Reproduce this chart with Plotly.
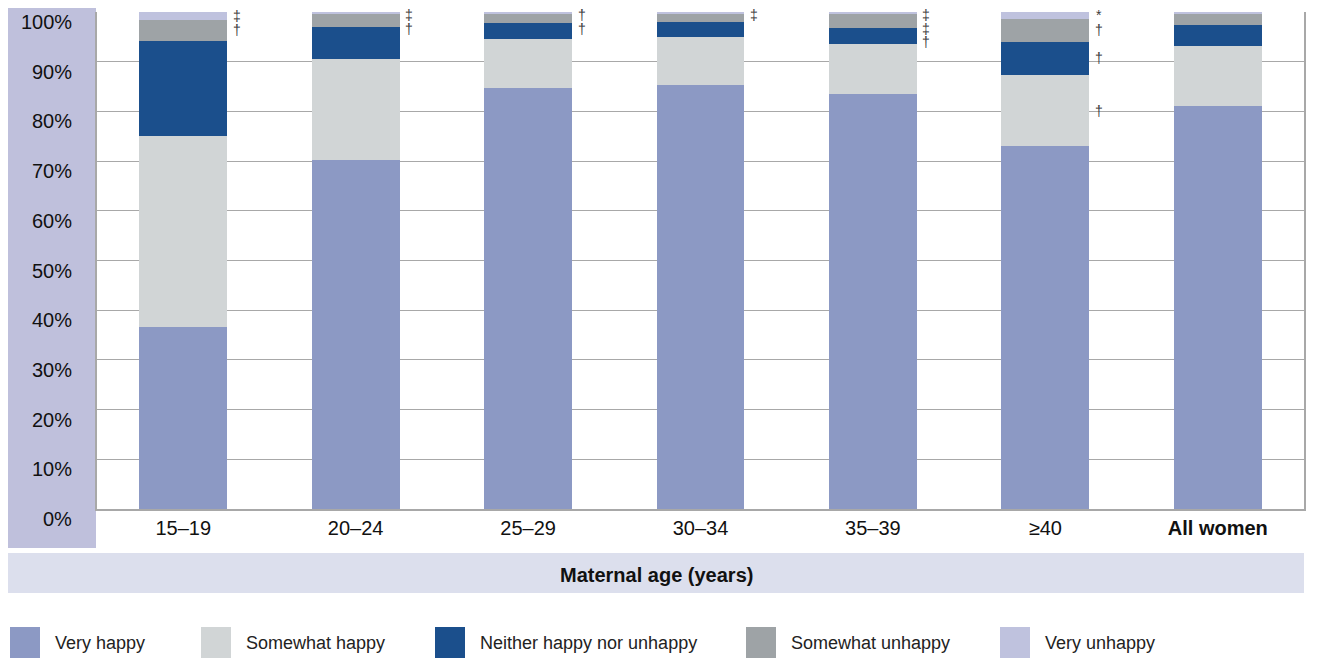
import plotly.graph_objects as go

# data (percent of women)
age_groups = ['15–19', '20–24', '25–29', '30–34', '35–39', '≥40', 'All women']
tick_labels = ['15–19', '20–24', '25–29', '30–34', '35–39', '≥40', '<b>All women</b>']
y_ticks = [0, 10, 20, 30, 40, 50, 60, 70, 80, 90, 100]

very_happy = [36.6, 70.2, 84.7, 85.3, 83.5, 73.0, 81.1]
somewhat_happy = [38.4, 20.3, 9.9, 9.7, 10.1, 14.3, 12.1]
neither = [19.2, 6.5, 3.2, 3.0, 3.2, 6.7, 4.2]
somewhat_unhappy = [4.2, 2.6, 1.8, 1.6, 2.8, 4.6, 2.2]
very_unhappy = [1.6, 0.4, 0.4, 0.4, 0.4, 1.4, 0.4]

series_names = ['Very happy', 'Somewhat happy', 'Neither happy nor unhappy',
                'Somewhat unhappy', 'Very unhappy']
series_values = [very_happy, somewhat_happy, neither, somewhat_unhappy, very_unhappy]
colors = ['#8c99c4', '#d1d5d6', '#1b4f8c', '#9ea3a6', '#bfc2de']

# footnote symbols per age group, per series (same order as series_names)
footnotes = [
    ['', '', '', '†', '‡'],
    ['', '', '', '†', '‡'],
    ['', '', '', '†', '†'],
    ['', '', '', '', '‡'],
    ['', '', '†', '‡', '‡'],
    ['', '†', '†', '†', '*'],
    ['', '', '', '', ''],
]

FONT = 'Liberation Sans Narrow, Arial Narrow, Liberation Sans, sans-serif'

# the page body adds an 8px offset, so the figure is laid out in screen pixels minus 8
OFF = 8
W, H = 1317 - OFF, 658 - OFF
L, R, T, B = 97 - OFF, 13, 12 - OFF, 658 - 509
PW, PH = W - L - R, H - T - B


def px(x):
    # screen x -> paper
    return (x - OFF - L) / PW


def py(y):
    # screen y -> paper
    return (H - B - (y - OFF)) / PH


fig = go.Figure()
for name, vals, col in zip(series_names, series_values, colors):
    fig.add_trace(go.Bar(x=age_groups, y=vals, name=name, marker_color=col,
                         marker_line_width=0, showlegend=False))

# footnote markers to the right of each bar, at segment midpoints, pushed apart
annotations = []
for i, syms in enumerate(footnotes):
    base = 0
    mids = []
    for vals in series_values:
        mids.append(base + vals[i] / 2)
        base += vals[i]
    prev = None
    for k in range(len(syms) - 1, -1, -1):
        if not syms[k]:
            continue
        y = min(mids[k], 99.3)
        if prev is not None and y > prev - 2.7:
            y = prev - 2.7
        prev = y
        annotations.append(dict(x=i + 0.31, y=y / 100, xref='x', yref='paper', text=syms[k],
                                showarrow=False, font=dict(family=FONT, size=14, color='#3a3a3a'),
                                xanchor='center', yanchor='middle'))

# y tick labels sit a little below their gridlines in the reference
for v in y_ticks:
    annotations.append(dict(x=px(74), y=v / 100, xref='paper', yref='paper', text=f'{v}%',
                            showarrow=False, yshift=-10,
                            font=dict(family=FONT, size=20, color='#111111'),
                            xanchor='right', yanchor='middle'))

# x-axis title band
annotations.append(dict(x=px((8 + 1304) / 2), y=py(575), xref='paper', yref='paper',
                        text='<b>Maternal age (years)</b>', showarrow=False,
                        font=dict(family=FONT, size=20, color='#111111'),
                        xanchor='center', yanchor='middle'))

shapes = [
    dict(type='rect', xref='paper', yref='paper', x0=px(8), x1=px(96), y0=py(548), y1=py(8),
         fillcolor='#bfc0dc', line_width=0, layer='below'),
    dict(type='rect', xref='paper', yref='paper', x0=px(8), x1=px(1304), y0=py(593), y1=py(553),
         fillcolor='#dcdfed', line_width=0, layer='below'),
]

# custom legend with large swatches
legend_x = [10, 201, 435, 746, 1000]
for name, col, lx in zip(series_names, colors, legend_x):
    shapes.append(dict(type='rect', xref='paper', yref='paper', x0=px(lx), x1=px(lx + 30),
                       y0=py(660), y1=py(627), fillcolor=col, line_width=0))
    annotations.append(dict(x=px(lx + 43), y=py(643), xref='paper', yref='paper', text=name,
                            showarrow=False, font=dict(family=FONT, size=18, color='#222222'),
                            xanchor='left', yanchor='middle'))

fig.update_layout(
    barmode='stack',
    bargap=0.49,
    width=W, height=H,
    margin=dict(l=L, r=R, t=T, b=B, autoexpand=False),
    plot_bgcolor='white',
    paper_bgcolor='white',
    font=dict(family=FONT, size=20, color='#111111'),
    annotations=annotations,
    shapes=shapes,
    xaxis=dict(tickvals=age_groups, ticktext=tick_labels, showgrid=False,
               showline=True, linecolor='#a8a8a8', linewidth=1.5, ticks='',
               tickfont=dict(family=FONT, size=20, color='#111111')),
    yaxis=dict(range=[0, 100], tickvals=y_ticks, showticklabels=False, showgrid=True,
               gridcolor='#a8a8a8', gridwidth=1.3, showline=True, mirror=True,
               linecolor='#a8a8a8', linewidth=1.5, ticks='', zeroline=False),
)

fig.write_html('out.html')
